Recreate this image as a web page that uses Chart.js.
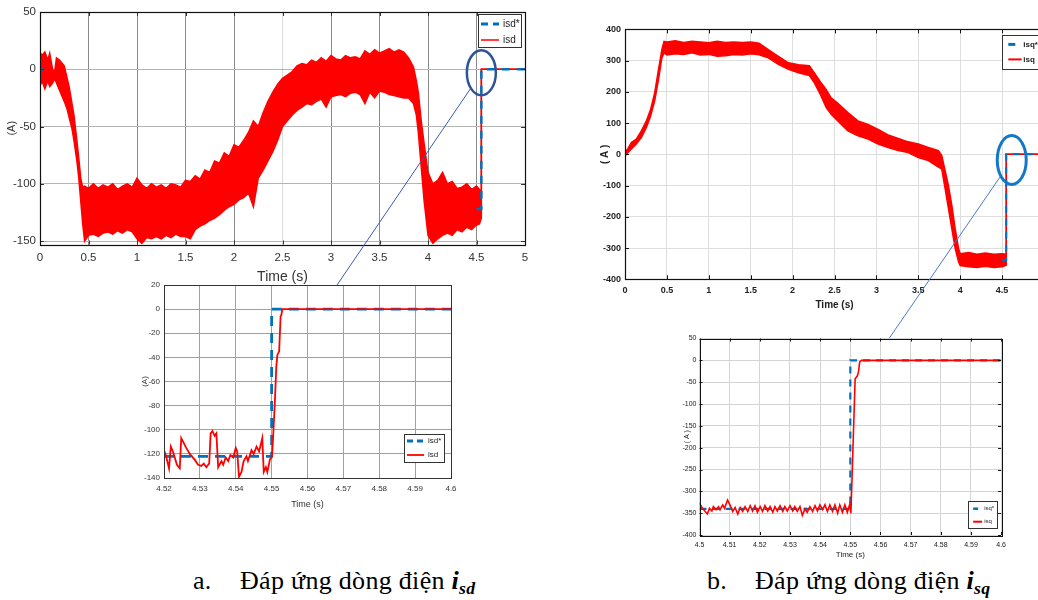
<!DOCTYPE html>
<html><head><meta charset="utf-8">
<script src="https://cdn.jsdelivr.net/npm/chart.js"></script>
<style>
html,body{margin:0;padding:0;background:#fff;}
body{width:1038px;height:600px;overflow:hidden;position:relative;}
canvas{position:absolute;}
.cap{position:absolute;font-family:"Liberation Serif","Times New Roman",serif;font-size:26px;line-height:1;color:#000;white-space:nowrap;letter-spacing:0.3px;}
.cap b{font-style:italic;font-weight:bold;}
.cap sub{font-size:0.68em;vertical-align:-0.28em;line-height:0;}
</style></head><body>
<canvas id="c1" width="545" height="286" style="left:0;top:0"></canvas>
<canvas id="c2" width="335" height="234" style="left:130px;top:276px"></canvas>
<canvas id="c3" width="470" height="325" style="left:585px;top:20px"></canvas>
<canvas id="c4" width="342" height="230" style="left:670px;top:330px"></canvas>
<div class="cap" style="left:193px;top:568px">a.</div>
<div class="cap" style="left:240px;top:568px">Đáp ứng dòng điện <b>i<sub>sd</sub></b></div>
<div class="cap" style="left:707px;top:568px">b.</div>
<div class="cap" style="left:755px;top:568px">Đáp ứng dòng điện <b>i<sub>sq</sub></b></div>
<script>
// ---------- (a) main: isd, 0..5 s ----------
const T1 = [0,0.02,0.05,0.08,0.1,0.13,0.15,0.17,0.2,0.25,
  0.28,0.3,0.33,0.35,0.38,0.4,0.42,0.44,0.46,0.5,
  0.55,0.6,0.65,0.7,0.75,0.8,0.85,0.9,0.95,1.0,
  1.05,1.1,1.15,1.2,1.25,1.3,1.35,1.4,1.45,1.5,
  1.55,1.6,1.65,1.7,1.75,1.8,1.85,1.9,1.95,2.0,
  2.05,2.1,2.15,2.2,2.25,2.3,2.35,2.4,2.45,2.5,
  2.55,2.6,2.65,2.7,2.75,2.8,2.85,2.9,2.95,3.0,
  3.05,3.1,3.15,3.2,3.25,3.3,3.35,3.4,3.45,3.5,
  3.55,3.6,3.65,3.7,3.75,3.8,3.85,3.88,3.9,3.93,
  3.96,4.0,4.05,4.1,4.15,4.2,4.25,4.3,4.35,4.4,
  4.45,4.5,4.53,4.55,4.55,5];
const ISD_UPPER = [15,12,15,8,14,0,-3,10,8,3,
  -8,-15,-30,-40,-62,-78,-95,-103,-102,-104,
  -100,-104,-101,-103,-100,-105,-102,-100,-103,-95,
  -101,-104,-100,-103,-101,-104,-100,-101,-103,-97,
  -98,-93,-96,-88,-90,-80,-82,-73,-76,-66,
  -68,-62,-55,-45,-50,-38,-28,-20,-13,-8,
  -5,-2,3,5,4,8,6,10,7,12,
  9,8,12,10,11,9,16,13,17,14,
  16,18,15,17,15,10,2,-10,-20,-45,
  -65,-90,-100,-97,-90,-100,-98,-104,-103,-100,
  -105,-102,-105,-108,0,0];
const ISD_LOWER = [-15,-10,-17,-10,-15,-12,-8,-12,-18,-28,
  -35,-42,-52,-62,-80,-95,-115,-135,-150,-145,
  -144,-146,-143,-142,-144,-141,-143,-140,-142,-148,
  -152,-147,-148,-146,-148,-145,-147,-144,-146,-146,
  -148,-140,-137,-135,-132,-130,-127,-123,-120,-118,
  -114,-112,-108,-120,-95,-88,-80,-72,-62,-50,
  -45,-40,-36,-33,-30,-31,-28,-26,-33,-24,
  -23,-22,-24,-21,-20,-22,-30,-20,-25,-19,
  -20,-22,-23,-24,-25,-25,-30,-40,-55,-85,
  -115,-145,-152,-148,-145,-143,-145,-140,-142,-138,
  -140,-136,-135,-130,0,0];
const REF_T1 = [0,0.03,0.03,4.5,4.55,4.55,5];
const ISD_REF1 = [0,0,null,-122,-122,0,0];
const X1_TICKS = [0,0.5,1,1.5,2,2.5,3,3.5,4,4.5,5];
const Y1_TICKS = [-150,-100,-50,0,50];

// ---------- (a) inset: isd, 4.52..4.6 s ----------
const T2 = [4.52,4.5205,4.5214,4.5219,4.5225,4.5236,4.5244,4.5248,4.5262,4.5272,
  4.5286,4.5295,4.5304,4.5311,4.5318,4.5326,4.533,4.5335,4.5341,4.5346,
  4.5351,4.536,4.5365,4.5372,4.5379,4.5385,4.5393,4.54,4.5404,4.5409,
  4.5416,4.5422,4.543,4.5434,4.5444,4.545,4.5458,4.5465,4.5474,4.5478,
  4.5484,4.5488,4.5495,4.5501,4.5504,4.5509,4.5513,4.5516,4.5521,4.5525,
  4.5527,4.553,4.6];
const ISD2 = [-117,-121,-132,-114,-118,-129,-132,-107,-115,-120,
  -125,-129,-130,-128,-131,-128,-103,-101,-105,-103,
  -131,-126,-129,-123,-126,-121,-123,-115,-118,-139,
  -135,-126,-122,-126,-117,-120,-114,-118,-107,-135,
  -131,-135,-125,-122,-107,-77,-48,-38,-35,-6,
  -5,0,0];
const REF_T2 = [4.52,4.55,4.55,4.6];
const ISD_REF2 = [-122,-122,0,0];
const X2_TICKS = [4.52,4.53,4.54,4.55,4.56,4.57,4.58,4.59,4.6];
const Y2_TICKS = [-140,-120,-100,-80,-60,-40,-20,0,20];

// ---------- (b) main: isq, 0..5 s ----------
const T3 = [0,0.036,0.076,0.135,0.195,0.255,0.306,0.354,0.4,0.44,
  0.466,0.5,0.6,0.7,0.8,0.9,1.0,1.1,1.2,1.3,
  1.4,1.5,1.6,1.71,1.83,1.95,2.07,2.2,2.26,2.34,
  2.4,2.46,2.54,2.66,2.78,2.9,3.02,3.14,3.26,3.38,
  3.5,3.62,3.74,3.78,3.82,3.86,3.9,3.94,3.98,4.0,
  4.1,4.2,4.3,4.4,4.5,4.55,4.55,5];
const ISQ_UPPER = [6,19,38,49,75,107,144,197,272,335,
  362,360,364,358,362,360,357,362,358,360,
  358,360,356,335,314,293,287,284,261,229,
  208,181,163,134,107,96,80,62,51,40,
  33,22,12,-4,-52,-100,-163,-238,-301,-318,
  -314,-320,-316,-320,-318,-320,0,0];
const ISQ_LOWER = [-4,6,17,33,54,86,123,171,240,309,
  325,318,322,320,325,318,320,314,316,320,
  318,322,319,309,288,272,261,252,229,187,
  150,128,107,75,59,49,33,22,12,6,
  -10,-20,-41,-47,-110,-174,-238,-301,-344,-356,
  -360,-362,-358,-362,-360,-355,0,0];
const REF_T3 = [0,0.03,0.03,4.5,4.55,4.55,5];
const ISQ_REF3 = [0,0,null,-340,-340,0,0];
const X3_TICKS = [0,0.5,1,1.5,2,2.5,3,3.5,4,4.5,5];
const Y3_TICKS = [-400,-300,-200,-100,0,100,200,300,400];

// ---------- (b) inset: isq, 4.5..4.6 s ----------
const T4 = [4.5,4.5008,4.5026,4.5033,4.5041,4.5046,4.5055,4.5063,4.5068,4.5077,
  4.5083,4.5093,4.5101,4.5110,4.5118,4.5127,4.5135,4.5143,4.5151,4.5160,
  4.5168,4.5176,4.5184,4.5192,4.5201,4.5209,4.5217,4.5226,4.5234,4.5243,
  4.5250,4.5258,4.5267,4.5276,4.5283,4.5291,4.5300,4.5309,4.5316,4.5324,
  4.5333,4.5341,4.5350,4.5357,4.5366,4.5375,4.5383,4.5391,4.5399,4.5408,
  4.5416,4.5424,4.5432,4.5441,4.5449,4.5458,4.5465,4.5474,4.5482,4.5490,
  4.5498,4.5502,4.5516,4.5523,4.5527,4.5531,4.5537,4.6];
const ISQ4 = [-327,-337,-352,-339,-345,-335,-342,-335,-342,-331,
  -339,-320,-331,-346,-337,-352,-337,-346,-335,-346,
  -333,-345,-333,-348,-335,-346,-333,-345,-335,-348,
  -335,-345,-333,-346,-335,-345,-333,-345,-335,-346,
  -335,-355,-340,-348,-335,-346,-333,-345,-331,-342,
  -331,-346,-331,-346,-331,-350,-331,-348,-331,-348,
  -330,-350,-42,-36,-27,-4,0,0];
const REF_T4 = [4.5,4.55,4.55,4.6];
const ISQ_REF4 = [-340,-340,0,0];
const X4_TICKS = [4.5,4.51,4.52,4.53,4.54,4.55,4.56,4.57,4.58,4.59,4.6];
const Y4_TICKS = [-400,-350,-300,-250,-200,-150,-100,-50,0,50];

// ---------- helpers ----------
const RED = '#ff0000', BLUE = '#0072BD';
const NARROW = '"Liberation Sans Narrow","Arial Narrow","Liberation Sans",Arial,sans-serif';
const pts = (xs, ys) => xs.map((x, i) => ({x, y: ys[i]}));

const framePlugin = {
  id: 'frame',
  afterDatasetsDraw(chart, args, o) {
    const {ctx, chartArea: a, scales: {x, y}} = chart;
    ctx.save();
    if (o.tickLen) {
      ctx.strokeStyle = o.tickColor; ctx.lineWidth = 1;
      ctx.beginPath();
      x.ticks.forEach(t => {
        const p = Math.round(x.getPixelForValue(t.value)) + 0.5;
        ctx.moveTo(p, a.bottom); ctx.lineTo(p, a.bottom - o.tickLen);
        ctx.moveTo(p, a.top); ctx.lineTo(p, a.top + o.tickLen);
      });
      y.ticks.forEach(t => {
        const p = Math.round(y.getPixelForValue(t.value)) + 0.5;
        ctx.moveTo(a.left, p); ctx.lineTo(a.left + o.tickLen, p);
        ctx.moveTo(a.right, p); ctx.lineTo(a.right - o.tickLen, p);
      });
      ctx.stroke();
    }
    ctx.strokeStyle = o.color; ctx.lineWidth = o.width;
    ctx.strokeRect(Math.round(a.left) + 0.5, Math.round(a.top) + 0.5,
      Math.round(a.right - a.left), Math.round(a.bottom - a.top));
    ctx.restore();
  }
};

const legendPlugin = {
  id: 'boxLegend',
  afterDraw(chart, args, o) {
    if (!o.items) return;
    const {ctx, chartArea: a} = chart;
    const L = a.right - o.dx;
    const T = o.fromBottom ? a.bottom - o.dy : a.top + o.dy;
    ctx.save();
    ctx.fillStyle = '#fff'; ctx.fillRect(L, T, o.w, o.h);
    ctx.strokeStyle = '#333'; ctx.lineWidth = 1;
    ctx.strokeRect(Math.round(L) + 0.5, Math.round(T) + 0.5, o.w, o.h);
    o.items.forEach((it, i) => {
      const ds = chart.data.datasets[it];
      const yy = T + o.rows[i];
      ctx.strokeStyle = ds.borderColor;
      ctx.lineWidth = o.lw[i];
      ctx.setLineDash(ds.borderDash ? o.dash : []);
      ctx.beginPath(); ctx.moveTo(L + o.x0, yy); ctx.lineTo(L + o.x1[i], yy); ctx.stroke();
      ctx.setLineDash([]);
      ctx.fillStyle = '#222'; ctx.font = o.font; ctx.textBaseline = 'middle';
      ctx.fillText(ds.label, L + o.tx, yy);
    });
    ctx.restore();
  }
};

const markPlugin = {
  id: 'zoomMark',
  afterDraw(chart, args, o) {
    if (!o.center) return;
    const {ctx, scales: {x, y}} = chart;
    const cx = x.getPixelForValue(o.center[0]), cy = y.getPixelForValue(o.center[1]);
    const tx = x.getPixelForValue(o.target[0]), ty = y.getPixelForValue(o.target[1]);
    const dx = tx - cx, dy = ty - cy;
    const s = 1 / Math.sqrt((dx / o.rx) ** 2 + (dy / o.ry) ** 2);
    ctx.save();
    ctx.strokeStyle = o.lineColor; ctx.lineWidth = 1;
    ctx.beginPath(); ctx.moveTo(cx + dx * s, cy + dy * s); ctx.lineTo(tx, ty); ctx.stroke();
    ctx.strokeStyle = o.color; ctx.lineWidth = o.lw;
    ctx.beginPath(); ctx.ellipse(cx, cy, o.rx, o.ry, 0, 0, Math.PI * 2); ctx.stroke();
    ctx.restore();
  }
};

function makeChart(id, c) {
  return new Chart(document.getElementById(id), {
    type: 'line',
    data: {datasets: c.datasets},
    plugins: [framePlugin, legendPlugin, markPlugin],
    options: {
      responsive: false, animation: false, events: [],
      layout: {padding: c.pad},
      elements: {point: {radius: 0}, line: {tension: 0}},
      plugins: {
        legend: {display: false}, tooltip: {enabled: false},
        frame: c.frame, boxLegend: c.legend, zoomMark: c.mark || {}
      },
      scales: {
        x: {
          type: 'linear', min: c.xMin, max: c.xMax,
          afterFit: s => { s.height = c.xH; },
          afterBuildTicks: s => { s.ticks = c.xTicks.map(v => ({value: v})); },
          ticks: {autoSkip: false, maxRotation: 0, minRotation: 0, padding: c.xPad,
            color: c.tc, font: c.tf, callback: v => String(v)},
          grid: {color: c.xGrid, drawTicks: false, lineWidth: 1},
          border: {display: false},
          title: {display: true, text: 'Time (s)', color: c.tc, font: c.xtf, padding: {top: 0, bottom: 0}}
        },
        y: {
          type: 'linear', min: c.yMin, max: c.yMax,
          afterFit: s => { s.width = c.yW; },
          afterBuildTicks: s => { s.ticks = c.yTicks.map(v => ({value: v})); },
          ticks: {autoSkip: false, padding: c.yPad, color: c.tc, font: c.tf, callback: v => String(v)},
          grid: {color: c.yGrid, drawTicks: false, lineWidth: 1},
          border: {display: false},
          title: {display: true, text: c.yTitle, color: c.tc, font: c.ytf, padding: {top: c.yTitlePad, bottom: 0}}
        }
      }
    }
  });
}

// ---- chart (a) main ----
makeChart('c1', {
  datasets: [
    {label: 'isd*', data: pts(REF_T1, ISD_REF1), borderColor: BLUE, borderWidth: 2.5, borderDash: [8, 7], spanGaps: false, fill: false},
    {label: 'isd', data: pts(T1, ISD_UPPER), borderColor: RED, borderWidth: 1.5, backgroundColor: RED, fill: 2},
    {label: 'isd', data: pts(T1, ISD_LOWER), borderColor: RED, borderWidth: 1.5, fill: false}
  ],
  pad: {top: 12, right: 20, bottom: 0, left: 0},
  xMin: 0, xMax: 5, xTicks: X1_TICKS, xH: 41.5, xPad: 6,
  yMin: -153, yMax: 50, yTicks: Y1_TICKS, yW: 40, yPad: 4,
  tc: '#333', tf: {family: NARROW, size: 11.5}, xtf: {family: NARROW, size: 14},
  ytf: {family: NARROW, size: 11}, yTitle: '(A)', yTitlePad: 5,
  xGrid: ctx => (ctx.tick && ctx.tick.value === 2.5) ? '#dcdcdc' : '#8a8a8a',
  yGrid: '#b4b4b4',
  frame: {color: '#111', width: 1.2, tickLen: 4, tickColor: '#333'},
  legend: {items: [0, 1], dx: 47, dy: 2, w: 43, h: 33, rows: [10, 26], x0: 3, x1: [21, 21], lw: [3, 1.5], dash: [7, 5], tx: 25, font: '10px ' + NARROW},
  mark: {center: [4.55, -3], rx: 14.5, ry: 22.5, target: [3.062, -188.4], color: '#2f5496', lw: 2.5, lineColor: '#3a5cb0'}
});

// ---- chart (a) inset ----
makeChart('c2', {
  datasets: [
    {label: 'isd', data: pts(T2, ISD2), borderColor: RED, borderWidth: 1.8, fill: false},
    {label: 'isd*', data: pts(REF_T2, ISD_REF2), borderColor: BLUE, borderWidth: 2.8, borderDash: [10, 7], fill: false}
  ],
  pad: {top: 9, right: 14, bottom: 0, left: 0},
  xMin: 4.52, xMax: 4.6, xTicks: X2_TICKS, xH: 32, xPad: 6,
  yMin: -140, yMax: 20, yTicks: Y2_TICKS, yW: 34, yPad: 4,
  tc: '#333', tf: {family: NARROW, size: 8}, xtf: {family: NARROW, size: 9},
  ytf: {family: NARROW, size: 8}, yTitle: '(A)', yTitlePad: 10,
  xGrid: '#a0a0a0', yGrid: '#a0a0a0',
  frame: {color: '#333', width: 1, tickLen: 0},
  legend: {items: [1, 0], fromBottom: true, dx: 47, dy: 44, w: 40, h: 28, rows: [7, 21], x0: 3, x1: [19, 20], lw: [3, 1.8], dash: [6, 4], tx: 24, font: '8px ' + NARROW}
});

// ---- chart (b) main ----
makeChart('c3', {
  datasets: [
    {label: 'isq*', data: pts(REF_T3, ISQ_REF3), borderColor: BLUE, borderWidth: 2, borderDash: [7, 6], spanGaps: false, fill: false},
    {label: 'isq', data: pts(T3, ISQ_UPPER), borderColor: RED, borderWidth: 1.5, backgroundColor: RED, fill: 2},
    {label: 'isq', data: pts(T3, ISQ_LOWER), borderColor: RED, borderWidth: 1.5, fill: false}
  ],
  pad: {top: 8.3, right: 11, bottom: 34, left: 0},
  xMin: 0, xMax: 5, xTicks: X3_TICKS, xH: 31.7, xPad: 6,
  yMin: -400, yMax: 400, yTicks: Y3_TICKS, yW: 40, yPad: 4,
  tc: '#222', tf: {family: NARROW, size: 9, weight: 'bold'}, xtf: {family: NARROW, size: 10, weight: 'bold'},
  ytf: {family: NARROW, size: 10, weight: 'bold'}, yTitle: '( A )', yTitlePad: 14.7,
  xGrid: '#dedede', yGrid: '#dedede',
  frame: {color: '#111', width: 1.2, tickLen: 4, tickColor: '#111'},
  legend: {items: [0, 1], dx: 42.3, dy: 5.7, w: 50, h: 34, rows: [9.3, 24.3], x0: 6.6, x1: [14, 20], lw: [3, 2], dash: [7, 5], tx: 21.6, font: 'bold 8px ' + NARROW},
  mark: {center: [4.615, -18], rx: 14.5, ry: 24.5, target: [3.15, -590], color: '#1478c8', lw: 3, lineColor: '#4a78c8'}
});

// ---- chart (b) inset ----
makeChart('c4', {
  datasets: [
    {label: 'isq', data: pts(T4, ISQ4), borderColor: RED, borderWidth: 1.6, fill: false},
    {label: 'isq*', data: pts(REF_T4, ISQ_REF4), borderColor: BLUE, borderWidth: 2.2, borderDash: [7, 6], fill: false}
  ],
  pad: {top: 8.5, right: 10, bottom: 0, left: 0},
  xMin: 4.5, xMax: 4.6, xTicks: X4_TICKS, xH: 25, xPad: 6,
  yMin: -400, yMax: 50, yTicks: Y4_TICKS, yW: 29.5, yPad: 3,
  tc: '#222', tf: {family: NARROW, size: 7}, xtf: {family: NARROW, size: 8},
  ytf: {family: NARROW, size: 7}, yTitle: '( A )', yTitlePad: 13,
  xGrid: '#d4d4d4', yGrid: '#d4d4d4',
  frame: {color: '#111', width: 1, tickLen: 3, tickColor: '#111'},
  legend: {items: [1, 0], fromBottom: true, dx: 33, dy: 34, w: 29, h: 27, rows: [7.7, 20.7], x0: 5, x1: [11, 14], lw: [2.5, 2], dash: [5, 3], tx: 16, font: '6px ' + NARROW}
});
</script>
</body></html>
